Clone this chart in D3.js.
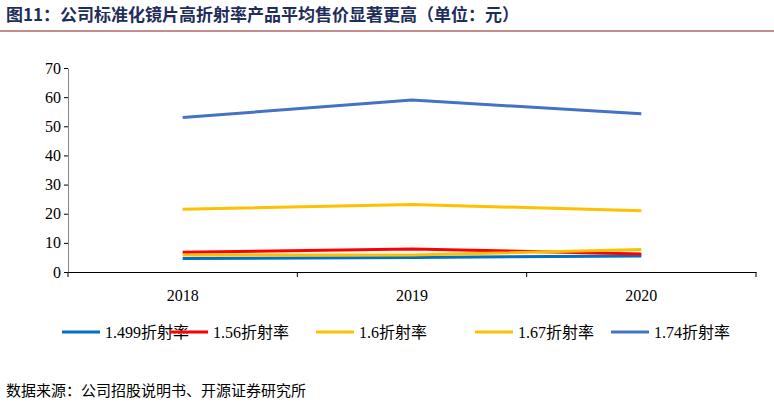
<!DOCTYPE html><html><head><meta charset="utf-8"><script src="https://cdn.jsdelivr.net/npm/d3@7"></script>
<style>body{margin:0;background:#fff}</style></head><body><svg id="c" width="774" height="405"></svg>
<script>
const categories=["2018","2019","2020"];
const seriesNames=["1.499折射率","1.56折射率","1.6折射率","1.67折射率","1.74折射率"];
const s1499=[4.6,5.0,5.5];
const s156=[6.8,7.9,6.2];
const s16=[5.8,5.8,7.7];
const s167=[21.5,23.2,21.0];
const s174=[53.0,59.0,54.3];
const yTicks=[0,10,20,30,40,50,60,70];
const colors=["#0070C0","#FF0000","#FFC000","#FFC000","#4472C4"];
const data=[s1499,s156,s16,s167,s174];
const svg=d3.select("#c");
const F="'Times New Roman','Liberation Serif','Noto Sans CJK SC',serif";
svg.append("text").attr("x",6).attr("y",21).attr("font-family","'Noto Sans CJK SC'").attr("font-weight","bold").attr("font-size",17).attr("fill","#1f2d5a").text("图11：公司标准化镜片高折射率产品平均售价显著更高（单位：元）");
svg.append("line").attr("x1",0).attr("x2",774).attr("y1",31).attr("y2",31).attr("stroke","#8b1a1a").attr("stroke-width",1);
const x=d3.scaleBand().domain(categories).range([68,756]);
const y=d3.scaleLinear().domain([0,70]).range([272,68]);
const ya=svg.append("g").attr("transform","translate(68,0)").call(d3.axisLeft(y).tickValues(yTicks).tickSize(4).tickSizeOuter(0));
ya.selectAll("text").attr("font-family",F).attr("font-size",16).attr("fill","#000");
ya.select(".domain").attr("stroke","#888");
const xa=svg.append("g").attr("transform","translate(0,272)").call(d3.axisBottom(x).tickSize(0).tickSizeOuter(0));
xa.select(".domain").attr("stroke","#000");
xa.selectAll("text").attr("font-family",F).attr("font-size",16).attr("fill","#000").attr("dy","1.6em");
const bounds=[68,...categories.map(c=>x(c)+x.bandwidth())];
xa.selectAll(".bt").data(bounds).enter().append("line").attr("x1",d=>d).attr("x2",d=>d).attr("y1",0).attr("y2",5).attr("stroke","#000");
const line=d3.line().x((d,i)=>x(categories[i])+x.bandwidth()/2).y(d=>y(d));
data.forEach((d,i)=>svg.append("path").datum(d).attr("d",line).attr("fill","none").attr("stroke",colors[i]).attr("stroke-width",3));
const lx=[62,170,316,475,611];
seriesNames.forEach((n,i)=>{const g=svg.append("g").attr("transform",`translate(${lx[i]},332)`);
g.append("line").attr("x1",0).attr("x2",38).attr("stroke",colors[i]).attr("stroke-width",3);
g.append("text").attr("x",43).attr("y",6).attr("font-family",F).attr("font-size",16).text(n);});
svg.append("text").attr("x",6).attr("y",396).attr("font-family","'Noto Sans CJK SC'").attr("font-size",15).text("数据来源：公司招股说明书、开源证券研究所");
</script></body></html>
